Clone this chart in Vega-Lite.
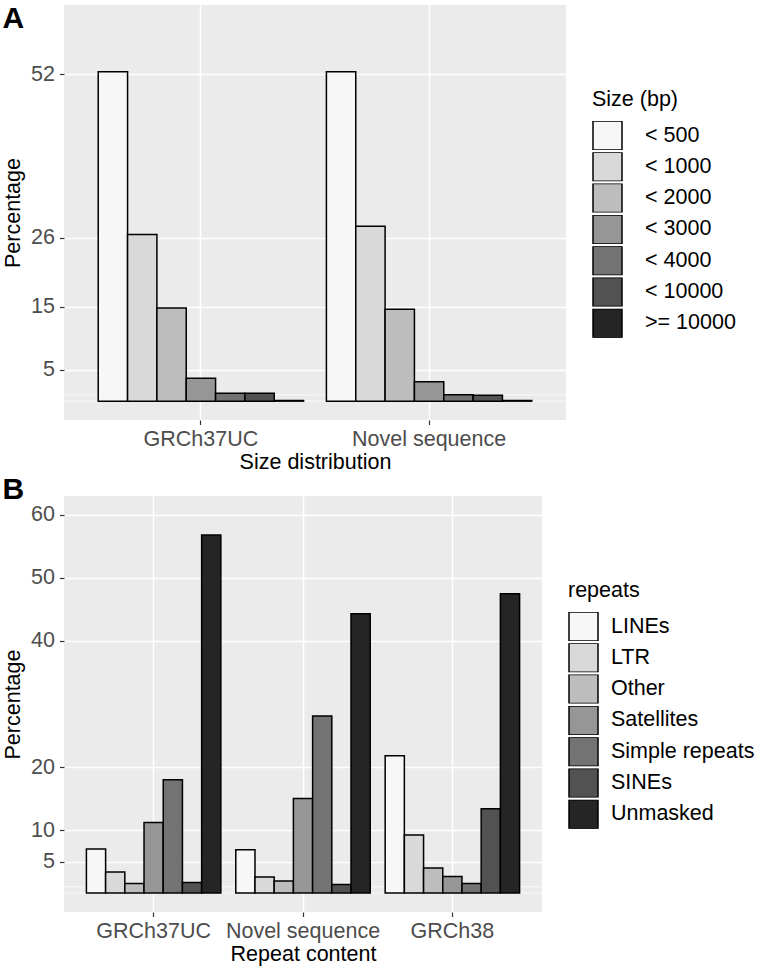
{
  "$schema": "https://vega.github.io/schema/vega-lite/v6.json",
  "padding": {"left": 2, "top": 4, "right": 2, "bottom": 2},
  "background": "white",
  "datasets": {
    "sizes": [
      {"genome": "GRCh37UC", "size": "< 500", "pct": 52.4},
      {"genome": "GRCh37UC", "size": "< 1000", "pct": 26.5},
      {"genome": "GRCh37UC", "size": "< 2000", "pct": 14.8},
      {"genome": "GRCh37UC", "size": "< 3000", "pct": 3.65},
      {"genome": "GRCh37UC", "size": "< 4000", "pct": 1.27},
      {"genome": "GRCh37UC", "size": "< 10000", "pct": 1.27},
      {"genome": "GRCh37UC", "size": ">= 10000", "pct": 0.1},
      {"genome": "Novel sequence", "size": "< 500", "pct": 52.4},
      {"genome": "Novel sequence", "size": "< 1000", "pct": 27.8},
      {"genome": "Novel sequence", "size": "< 2000", "pct": 14.6},
      {"genome": "Novel sequence", "size": "< 3000", "pct": 3.1},
      {"genome": "Novel sequence", "size": "< 4000", "pct": 1.0},
      {"genome": "Novel sequence", "size": "< 10000", "pct": 0.95},
      {"genome": "Novel sequence", "size": ">= 10000", "pct": 0.1}
    ],
    "repeats": [
      {"genome": "GRCh37UC", "repeats": "LINEs", "pct": 6.98},
      {"genome": "GRCh37UC", "repeats": "LTR", "pct": 3.33},
      {"genome": "GRCh37UC", "repeats": "Other", "pct": 1.53},
      {"genome": "GRCh37UC", "repeats": "Satellites", "pct": 11.2},
      {"genome": "GRCh37UC", "repeats": "Simple repeats", "pct": 18.0},
      {"genome": "GRCh37UC", "repeats": "SINEs", "pct": 1.69},
      {"genome": "GRCh37UC", "repeats": "Unmasked", "pct": 56.8},
      {"genome": "Novel sequence", "repeats": "LINEs", "pct": 6.88},
      {"genome": "Novel sequence", "repeats": "LTR", "pct": 2.54},
      {"genome": "Novel sequence", "repeats": "Other", "pct": 1.9},
      {"genome": "Novel sequence", "repeats": "Satellites", "pct": 15.0},
      {"genome": "Novel sequence", "repeats": "Simple repeats", "pct": 28.1},
      {"genome": "Novel sequence", "repeats": "SINEs", "pct": 1.37},
      {"genome": "Novel sequence", "repeats": "Unmasked", "pct": 44.3},
      {"genome": "GRCh38", "repeats": "LINEs", "pct": 21.8},
      {"genome": "GRCh38", "repeats": "LTR", "pct": 9.2},
      {"genome": "GRCh38", "repeats": "Other", "pct": 4.0},
      {"genome": "GRCh38", "repeats": "Satellites", "pct": 2.65},
      {"genome": "GRCh38", "repeats": "Simple repeats", "pct": 1.53},
      {"genome": "GRCh38", "repeats": "SINEs", "pct": 13.4},
      {"genome": "GRCh38", "repeats": "Unmasked", "pct": 47.5}
    ],
    "minor": [{"v": 0}, {"v": 1}]
  },
  "vconcat": [
    {
      "title": {"text": "A", "anchor": "start", "frame": "bounds", "baseline": "top", "offset": -29, "fontSize": 30, "fontWeight": "bold", "font": "Liberation Sans", "color": "black"},
      "width": 502,
      "height": 415,
      "layer": [
        {
          "data": {"name": "minor"},
          "mark": {"type": "rule", "color": "white", "strokeWidth": 0.8},
          "encoding": {
            "y": {"field": "v", "type": "quantitative", "title": "Percentage", "scale": {"domain": [-3, 63], "nice": false, "zero": false}}
          }
        },
        {
          "data": {"name": "sizes"},
          "mark": {"type": "bar", "stroke": "black", "strokeWidth": 1.5},
          "encoding": {
            "x": {
              "field": "genome", "type": "nominal", "sort": ["GRCh37UC", "Novel sequence"],
              "scale": {"paddingInner": 0.1, "paddingOuter": 0.15},
              "axis": {"title": "Size distribution", "labelAngle": 0, "bandPosition": 0.5, "grid": true}
            },
            "xOffset": {
              "field": "size", "type": "nominal",
              "sort": ["< 500", "< 1000", "< 2000", "< 3000", "< 4000", "< 10000", ">= 10000"],
              "scale": {"paddingInner": 0, "paddingOuter": 0}
            },
            "y": {
              "field": "pct", "type": "quantitative", "title": "Percentage",
              "scale": {"domain": [-3, 63], "nice": false, "zero": false},
              "axis": {"values": [5, 15, 26, 52]}
            },
            "fill": {
              "field": "size", "type": "nominal",
              "scale": {
                "domain": ["< 500", "< 1000", "< 2000", "< 3000", "< 4000", "< 10000", ">= 10000"],
                "range": ["#f7f7f7", "#d9d9d9", "#bdbdbd", "#969696", "#737373", "#525252", "#252525"]
              },
              "legend": {"title": "Size (bp)", "orient": "none", "legendX": 528, "legendY": 84, "labelOffset": 22}
            }
          }
        }
      ]
    },
    {
      "title": {"text": "B", "anchor": "start", "frame": "bounds", "baseline": "top", "offset": -9, "fontSize": 30, "fontWeight": "bold", "font": "Liberation Sans", "color": "black"},
      "width": 478,
      "height": 416,
      "layer": [
        {
          "data": {"name": "minor"},
          "mark": {"type": "rule", "color": "white", "strokeWidth": 0.8},
          "encoding": {
            "y": {"field": "v", "type": "quantitative", "title": "Percentage", "scale": {"domain": [-3, 63], "nice": false, "zero": false}}
          }
        },
        {
          "data": {"name": "repeats"},
          "mark": {"type": "bar", "stroke": "black", "strokeWidth": 1.5},
          "encoding": {
            "x": {
              "field": "genome", "type": "nominal", "sort": ["GRCh37UC", "Novel sequence", "GRCh38"],
              "scale": {"paddingInner": 0.1, "paddingOuter": 0.15},
              "axis": {"title": "Repeat content", "labelAngle": 0, "bandPosition": 0.5, "grid": true}
            },
            "xOffset": {
              "field": "repeats", "type": "nominal",
              "sort": ["LINEs", "LTR", "Other", "Satellites", "Simple repeats", "SINEs", "Unmasked"],
              "scale": {"paddingInner": 0, "paddingOuter": 0}
            },
            "y": {
              "field": "pct", "type": "quantitative", "title": "Percentage",
              "scale": {"domain": [-3, 63], "nice": false, "zero": false},
              "axis": {"values": [5, 10, 20, 40, 50, 60]}
            },
            "fill": {
              "field": "repeats", "type": "nominal",
              "scale": {
                "domain": ["LINEs", "LTR", "Other", "Satellites", "Simple repeats", "SINEs", "Unmasked"],
                "range": ["#f7f7f7", "#d9d9d9", "#bdbdbd", "#969696", "#737373", "#525252", "#252525"]
              },
              "legend": {"title": "repeats", "orient": "none", "legendX": 504, "legendY": 84, "labelOffset": 12}
            }
          }
        }
      ]
    }
  ],
  "spacing": 2,
  "resolve": {
    "scale": {"x": "independent", "y": "independent", "xOffset": "independent", "fill": "independent"},
    "legend": {"fill": "independent"}
  },
  "config": {
    "font": "Liberation Sans",
    "view": {"fill": "#EBEBEB", "stroke": null},
    "axis": {
      "labelFont": "Liberation Sans", "titleFont": "Liberation Sans",
      "labelFontSize": 21.5, "titleFontSize": 21.5,
      "labelColor": "#4D4D4D", "titleColor": "black", "titleFontWeight": "normal",
      "tickColor": "#333333", "tickSize": 4.5, "tickWidth": 1.2,
      "domain": false, "gridColor": "white", "gridWidth": 1.5
    },
    "axisX": {"labelPadding": 4, "titlePadding": 1.5},
    "axisY": {"labelPadding": 5, "titlePadding": 6},
    "legend": {
      "padding": 0,
      "titleFont": "Liberation Sans", "titleFontSize": 21.5, "titleFontWeight": "normal", "titleColor": "black", "titlePadding": 10.5,
      "labelFont": "Liberation Sans", "labelFontSize": 21.5, "labelColor": "black",
      "symbolType": "square", "symbolSize": 841, "symbolStrokeColor": "black", "symbolStrokeWidth": 1.5,
      "clipHeight": 29, "rowPadding": 2.3
    }
  }
}
